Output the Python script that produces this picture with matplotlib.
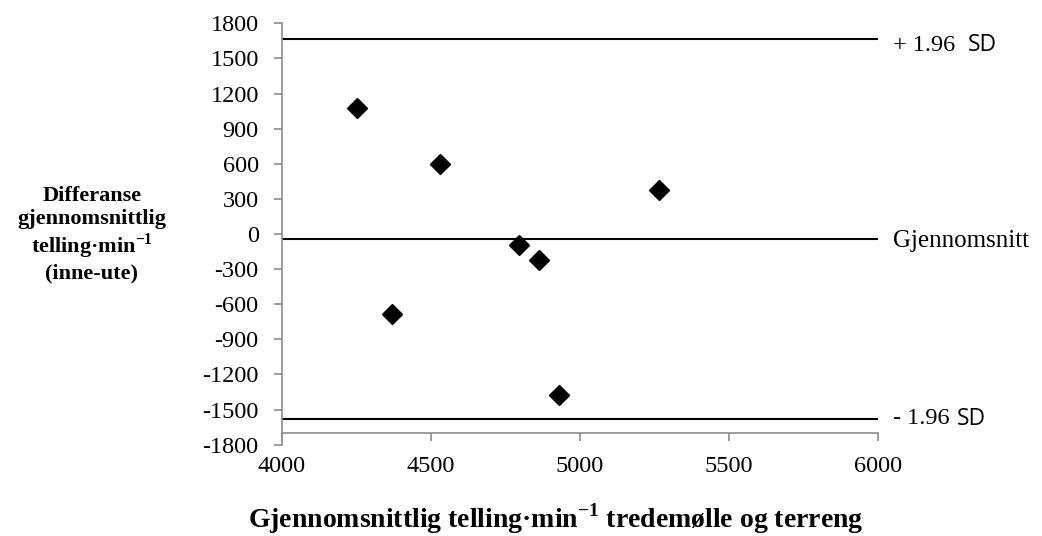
import matplotlib.pyplot as plt
from matplotlib import transforms

plt.rcParams['font.family'] = 'Liberation Serif'
plt.rcParams['mathtext.fontset'] = 'custom'
plt.rcParams['mathtext.rm'] = 'Liberation Serif'
plt.rcParams['mathtext.bf'] = 'Liberation Serif:bold'
plt.rcParams['axes.unicode_minus'] = False

# data
mean_count = [4252, 4531, 4370, 4795, 4863, 4929, 5266]
diff_count = [1080, 600, -685, -94, -222, -1378, 379]
upper_sd = 1666
mean_diff = -46
lower_sd = -1577
x_ticks = [4000, 4500, 5000, 5500, 6000]
y_ticks = list(range(-1800, 1801, 300))

fig = plt.figure(figsize=(10.42, 5.36), dpi=100)
ax = fig.add_axes([0.2703, 0.1703, 0.5723, 0.7862])

for yv in [upper_sd, mean_diff, lower_sd]:
    ax.plot([4000, 6000], [yv, yv], color='black', lw=1.5, zorder=2)

ax.plot(mean_count, diff_count, linestyle='none', marker='D', color='black',
        markersize=10, zorder=3)

ax.set_xlim(4000, 6000)
ax.set_ylim(-1800, 1800)
ax.set_xticks(x_ticks)
ax.set_yticks(y_ticks)
ax.tick_params(labelsize=17.5, color='#8c8c8c', width=1.2, length=5.5)
ax.tick_params(axis='y', pad=11)
ax.tick_params(axis='x', pad=11)
ax.spines['top'].set_visible(False)
ax.spines['right'].set_visible(False)
ax.spines['bottom'].set_position(('data', -1700))
for s in ['left', 'bottom']:
    ax.spines[s].set_color('#8c8c8c')
    ax.spines[s].set_linewidth(1.2)

# labels on the right of the lines
tr = transforms.blended_transform_factory(fig.transFigure, ax.transData)
x0 = 893 / 1042
ax.text(x0, upper_sd - 55, '+ 1.96', transform=tr, fontsize=17.5, va='center', ha='left')
ax.text(968 / 1042, upper_sd - 55, 'SD', transform=tr, fontsize=16.5, va='center',
        ha='left', family='Open Sans')
ax.text(x0, mean_diff - 15, 'Gjennomsnitt', transform=tr, fontsize=18, va='center', ha='left')
ax.text(x0, lower_sd, '- 1.96', transform=tr, fontsize=17.5, va='center', ha='left')
ax.text(957 / 1042, lower_sd, 'SD', transform=tr, fontsize=16.5, va='center',
        ha='left', family='Open Sans')

fig.text(92 / 1042, 1 - 235 / 536,
         'Differanse\ngjennomsnittlig\ntelling·min$^{\\mathbf{-1}}$\n(inne-ute)',
         ha='center', va='center', fontsize=16, fontweight='bold', linespacing=1.15)
fig.text(556 / 1042, 1 - 519 / 536,
         'Gjennomsnittlig telling·min$^{\\mathbf{-1}}$ tredemølle og terreng',
         ha='center', va='center', fontsize=20, fontweight='bold')

fig.savefig('out.png', dpi=100)
